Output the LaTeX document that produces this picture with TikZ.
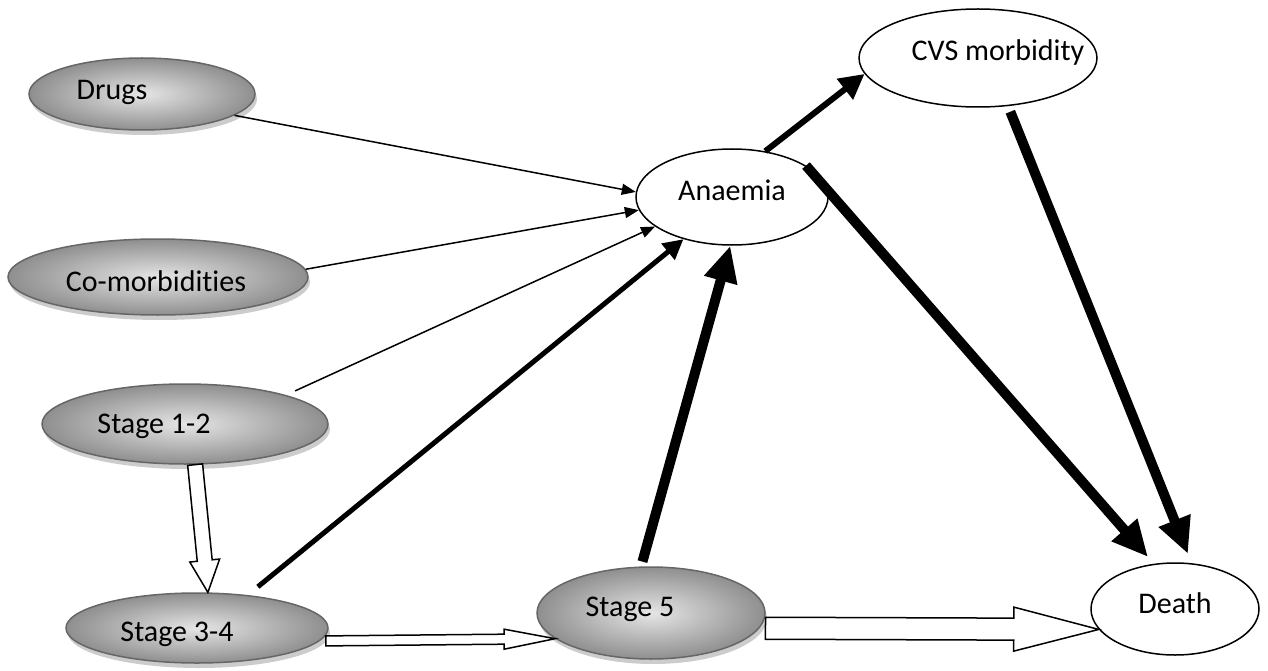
\documentclass[tikz,border=0pt]{standalone}
\usepackage{fontspec}
\setmainfont[Ligatures=NoCommon]{Carlito}
\usetikzlibrary{shapes.geometric,arrows.meta,calc,shadows}
\newcommand{\blockarr}[5]{%
  \path coordinate (bh) at ($(#2)!#5pt!(#1)$);
  \draw[blockstyle] ($(#1)!#3pt!90:(#2)$) -- ($(bh)!#3pt!90:(#2)$) -- ($(bh)!#4pt!90:(#2)$) -- (#2) -- ($(bh)!#4pt!-90:(#2)$) -- ($(bh)!#3pt!-90:(#2)$) -- ($(#1)!#3pt!-90:(#2)$) -- cycle;}
\begin{document}
\begin{tikzpicture}[x=1pt,y=-1pt,font=\fontsize{30}{36}\selectfont,
  grayell/.style={ellipse, draw=black!60, line width=1.5pt, shading=radial,
    inner color=black!10, outer color=black!44, inner sep=0pt,
    drop shadow={shadow xshift=2pt, shadow yshift=-5pt, fill=black!20, opacity=1}},
  whiteell/.style={ellipse, draw=black, line width=1.5pt, fill=white, inner sep=0pt},
  thinarr/.style={line width=1.5pt, -{Triangle[length=14pt,width=11pt]}},
  midarr/.style={line width=5pt, -{Triangle[length=20pt,width=20pt]}},
  medarr/.style={line width=6pt, -{Triangle[length=25pt,width=25pt]}},
  heavyarr/.style={line width=10pt, -{Triangle[length=36pt,width=32pt]}},
  blockstyle/.style={draw=black, line width=1.5pt, fill=white, line join=miter}]
\useasboundingbox (0,0) rectangle (1268,671);
% gray nodes
\node[grayell, minimum width=226pt, minimum height=72pt,
  label={[xshift=-30pt,yshift=2pt]center:Drugs}] (drugs) at (142,94) {};
\node[grayell, minimum width=300pt, minimum height=76pt,
  label={[xshift=-2pt,yshift=-4pt]center:Co-morbidities}] (comorb) at (158,277) {};
\node[grayell, minimum width=286pt, minimum height=80pt,
  label={[xshift=-31pt,yshift=-2pt]center:Stage 1-2}] (stage12) at (185,424) {};
\node[grayell, minimum width=262pt, minimum height=70pt,
  label={[xshift=-20pt,yshift=-6pt]center:Stage 3-4}] (stage34) at (197,628) {};
\node[grayell, minimum width=228pt, minimum height=92pt,
  label={[xshift=-21pt,yshift=4pt]center:Stage 5}] (stage5) at (651,613) {};
% white nodes
\node[whiteell, minimum width=192pt, minimum height=96pt,
  label={[yshift=7pt]center:Anaemia}] (anaemia) at (732,197) {};
\node[whiteell, minimum width=238pt, minimum height=98pt,
  label={[xshift=20pt,yshift=5pt]center:CVS morbidity}] (cvs) at (978,58) {};
\node[whiteell, minimum width=168pt, minimum height=92pt,
  label={[yshift=6pt]center:Death}] (death) at (1175,609) {};
% connectors
\draw[thinarr] (drugs.-13) -- (anaemia.177);
\draw[thinarr] (comorb.3) -- (anaemia.188);
\draw[thinarr, shorten <=10pt] (stage12.16) -- (anaemia.201);
\draw[midarr, shorten <=13pt] (stage34.33) -- (anaemia.221);
\draw[heavyarr, shorten <=5pt] (stage5.102) -- (anaemia.-92);
\draw[medarr] (anaemia.54) -- (cvs.188);
\draw[heavyarr, shorten >=9pt] (anaemia.23) -- (death.115);
\draw[heavyarr, shorten <=6pt, shorten >=10pt] (cvs.-58) -- (death.70);
% block arrows
\path (stage12.-76) coordinate (b1s) (stage34.73) coordinate (b1t);
\blockarr{b1s}{b1t}{7.5}{15}{32}
\path ($(stage34.-6)+(6,0)$) coordinate (b2s) (stage5.195) coordinate (b2t);
\blockarr{b2s}{b2t}{5}{10}{51}
\path ($(stage5.-8)+(6,0)$) coordinate (b3s) (death.195) coordinate (b3t);
\blockarr{b3s}{b3t}{11}{22}{85}
\end{tikzpicture}
\end{document}
